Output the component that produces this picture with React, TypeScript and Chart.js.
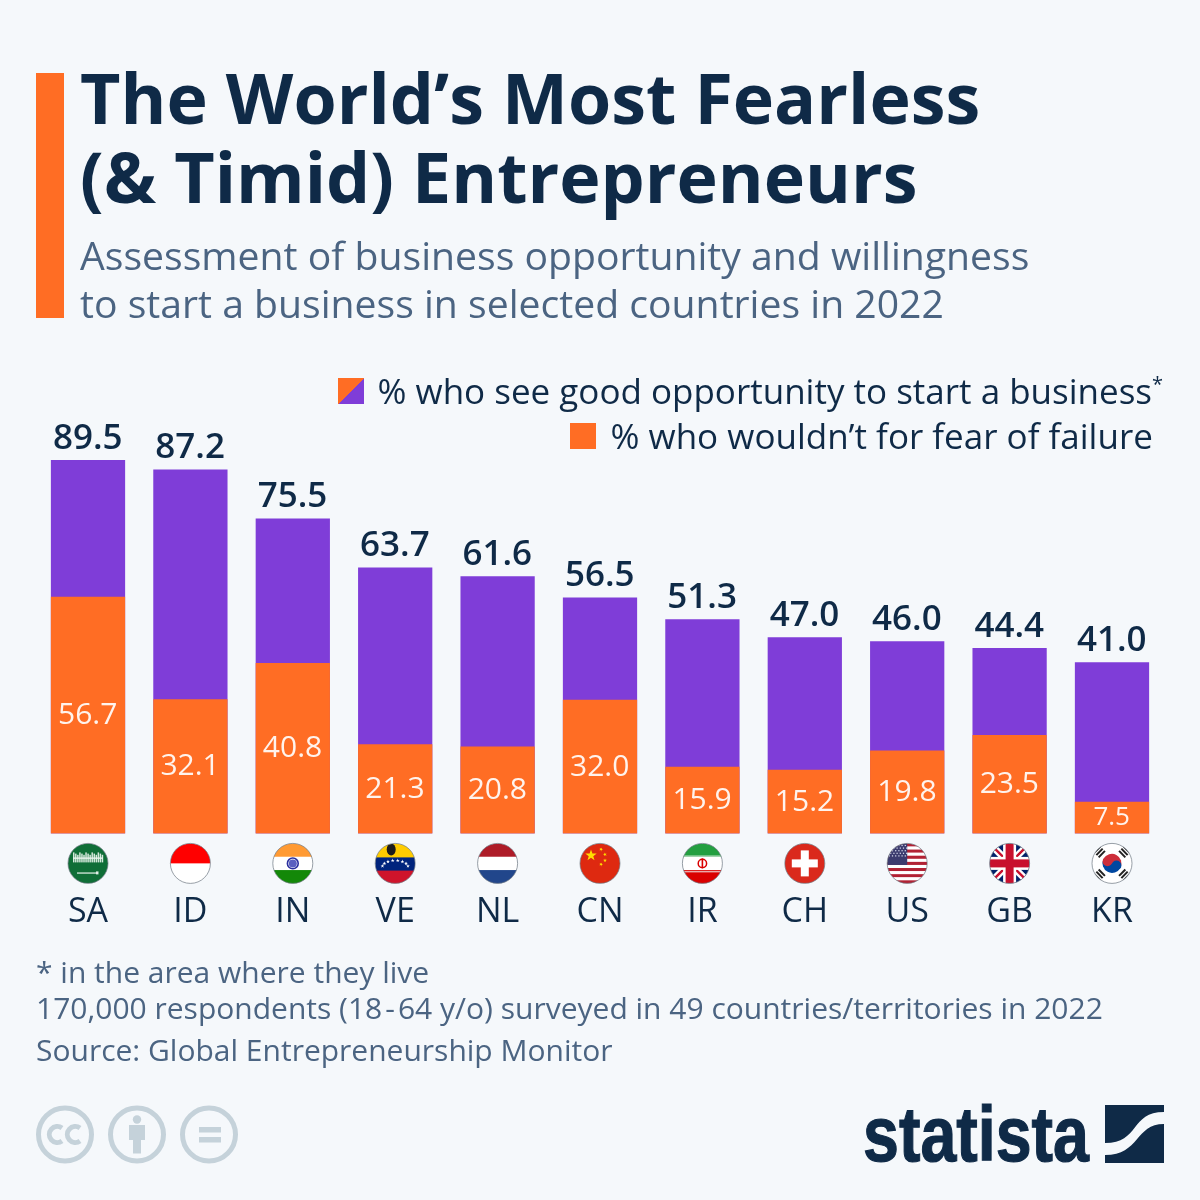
import React, { useEffect, useRef } from "react";
import { Chart, registerables } from "chart.js";

Chart.register(...registerables);

const categories = ["SA", "ID", "IN", "VE", "NL", "CN", "IR", "CH", "US", "GB", "KR"];
const opportunity = [89.5, 87.2, 75.5, 63.7, 61.6, 56.5, 51.3, 47.0, 46.0, 44.4, 41.0];
const fearOfFailure = [56.7, 32.1, 40.8, 21.3, 20.8, 32.0, 15.9, 15.2, 19.8, 23.5, 7.5];
const opportunityLabel = "% who see good opportunity to start a business";
const fearLabel = "% who wouldn\u2019t for fear of failure";

const BG = "#f5f8fb";
const ORANGE = "#ff6d24";
const PURPLE = "#7f3dd8";
const NAVY = "#0f2a47";
const SLATE = "#4b6482";
const FONT = "'Open Sans', sans-serif";

type Ctx = CanvasRenderingContext2D;

function star(c: Ctx, x: number, y: number, r: number, fill: string, rot = 0) {
  c.fillStyle = fill;
  c.beginPath();
  for (let i = 0; i < 10; i++) {
    const a = -Math.PI / 2 + rot + (i * Math.PI) / 5;
    const q = i % 2 ? r * 0.4 : r;
    c.lineTo(x + q * Math.cos(a), y + q * Math.sin(a));
  }
  c.closePath();
  c.fill();
}

function bands(c: Ctx, x: number, y: number, r: number, cols: string[], cuts?: number[]) {
  const cs = cuts ?? cols.map((_, i) => (i + 1) / cols.length);
  let prev = 0;
  cols.forEach((col, i) => {
    c.fillStyle = col;
    c.fillRect(x - r, y - r + prev * 2 * r, 2 * r, (cs[i] - prev) * 2 * r + 0.5);
    prev = cs[i];
  });
}

const flags: Record<string, (c: Ctx, x: number, y: number, r: number) => void> = {
  SA(c, x, y, r) {
    c.fillStyle = "#0f6e37";
    c.fillRect(x - r, y - r, 2 * r, 2 * r);
    c.fillStyle = "rgba(235,245,238,0.9)";
    for (let i = 0; i < 15; i++) {
      c.fillRect(x - 15 + i * 2.05, y - 11 + (i % 3) * 1.2, 1.5, 10 - (i % 3) * 1.2);
    }
    c.fillRect(x - 15, y - 6, 30, 1.5);
    c.fillRect(x - 11, y + 9, 21, 1.3);
    c.fillRect(x + 8, y + 8, 2.5, 3);
  },
  ID(c, x, y, r) {
    bands(c, x, y, r, ["#ff0000", "#ffffff"]);
  },
  IN(c, x, y, r) {
    bands(c, x, y, r, ["#ff9a33", "#ffffff", "#138808"]);
    c.strokeStyle = "#2b2f9e";
    c.lineWidth = 1.6;
    c.beginPath();
    c.arc(x, y, 5.4, 0, Math.PI * 2);
    c.stroke();
    c.fillStyle = "#5a60c0";
    c.beginPath();
    c.arc(x, y, 4, 0, Math.PI * 2);
    c.fill();
  },
  VE(c, x, y, r) {
    bands(c, x, y, r, ["#ffcc00", "#00247d", "#cf142b"], [0.35, 0.68, 1]);
    c.fillStyle = "#1c1c1c";
    c.beginPath();
    c.ellipse(x - 4, y - 14, 4.5, 6, 0, 0, Math.PI * 2);
    c.fill();
    for (let i = 0; i < 8; i++) {
      const a = Math.PI + ((i + 0.5) * Math.PI) / 8;
      star(c, x + 13 * Math.cos(a), y + 4 + 7 * Math.sin(a), 2, "#ffffff");
    }
  },
  NL(c, x, y, r) {
    bands(c, x, y, r, ["#ae1c28", "#ffffff", "#21468b"]);
  },
  CN(c, x, y, r) {
    c.fillStyle = "#de2910";
    c.fillRect(x - r, y - r, 2 * r, 2 * r);
    star(c, x - 9, y - 8, 6, "#ffde00");
    star(c, x + 1, y - 14, 2, "#ffde00", 0.5);
    star(c, x + 5, y - 9, 2, "#ffde00", 0.9);
    star(c, x + 5, y - 3, 2, "#ffde00", 0);
    star(c, x + 1, y + 1, 2, "#ffde00", 0.5);
  },
  IR(c, x, y, r) {
    bands(c, x, y, r, ["#239f40", "#ffffff", "#da0000"]);
    c.strokeStyle = "#da0000";
    c.lineWidth = 1.5;
    c.beginPath();
    c.arc(x, y, 4.2, 0, Math.PI * 2);
    c.stroke();
    c.fillStyle = "#da0000";
    c.fillRect(x - 0.8, y - 5, 1.6, 10);
    c.fillStyle = "#e9a9a9";
    c.fillRect(x - r, y + 7.5, 2 * r, 1.5);
    c.fillStyle = "#a9d8b4";
    c.fillRect(x - r, y - 8, 2 * r, 1.5);
  },
  CH(c, x, y, r) {
    c.fillStyle = "#da291c";
    c.fillRect(x - r, y - r, 2 * r, 2 * r);
    c.fillStyle = "#ffffff";
    c.fillRect(x - 4, y - 13, 8, 26);
    c.fillRect(x - 13, y - 4, 26, 8);
  },
  US(c, x, y, r) {
    const h = (2 * r) / 13;
    for (let i = 0; i < 13; i++) {
      c.fillStyle = i % 2 ? "#ffffff" : "#b22234";
      c.fillRect(x - r, y - r + i * h, 2 * r, h + 0.3);
    }
    c.fillStyle = "#3c3b6e";
    c.fillRect(x - r, y - r, 20, 7 * h);
    c.fillStyle = "#dfe3f2";
    for (let row = 0; row < 5; row++) {
      for (let col = 0; col < 6; col++) {
        c.fillRect(x - r + 1.5 + col * 3.2 + (row % 2) * 1.4, y - r + 1.5 + row * 2.6, 1.2, 1.2);
      }
    }
  },
  GB(c, x, y, r) {
    c.fillStyle = "#012169";
    c.fillRect(x - r, y - r, 2 * r, 2 * r);
    c.lineCap = "butt";
    const diag = (w: number, col: string) => {
      c.strokeStyle = col;
      c.lineWidth = w;
      c.beginPath();
      c.moveTo(x - r, y - r);
      c.lineTo(x + r, y + r);
      c.moveTo(x + r, y - r);
      c.lineTo(x - r, y + r);
      c.stroke();
    };
    diag(7, "#ffffff");
    diag(2.4, "#c8102e");
    c.fillStyle = "#ffffff";
    c.fillRect(x - 6.5, y - r, 13, 2 * r);
    c.fillRect(x - r, y - 6.5, 2 * r, 13);
    c.fillStyle = "#c8102e";
    c.fillRect(x - 4, y - r, 8, 2 * r);
    c.fillRect(x - r, y - 4, 2 * r, 8);
  },
  KR(c, x, y, r) {
    c.fillStyle = "#ffffff";
    c.fillRect(x - r, y - r, 2 * r, 2 * r);
    c.fillStyle = "#cd2e3a";
    c.beginPath();
    c.arc(x, y, 9.5, Math.PI * 1.15, Math.PI * 0.15);
    c.fill();
    c.fillStyle = "#0047a0";
    c.beginPath();
    c.arc(x, y, 9.5, Math.PI * 0.15, Math.PI * 1.15);
    c.fill();
    c.fillStyle = "#cd2e3a";
    c.beginPath();
    c.arc(x - 4.5, y - 2, 4.9, 0, Math.PI * 2);
    c.fill();
    c.fillStyle = "#0047a0";
    c.beginPath();
    c.arc(x + 4.5, y + 2, 4.9, 0, Math.PI * 2);
    c.fill();
    c.fillStyle = "#222222";
    [[-12.5, -11.5, -0.8], [12.5, -11.5, 0.8], [-12.5, 11.5, 0.8], [12.5, 11.5, -0.8]].forEach(([dx, dy, a]) => {
      c.save();
      c.translate(x + dx, y + dy);
      c.rotate(a);
      c.fillRect(-4.5, -4.2, 9, 2);
      c.fillRect(-4.5, -1, 9, 2);
      c.fillRect(-4.5, 2.2, 9, 2);
      c.restore();
    });
  },
};

const decorations = {
  id: "decorations",
  afterDatasetsDraw(chart: any) {
    const c: Ctx = chart.ctx;
    const total = chart.getDatasetMeta(1).data;
    const fear = chart.getDatasetMeta(0).data;
    c.save();
    c.textAlign = "center";
    categories.forEach((code, i) => {
      const t = total[i];
      c.fillStyle = NAVY;
      c.textBaseline = "alphabetic";
      c.font = `600 35px ${FONT}`;
      c.fillText(opportunity[i].toFixed(1), t.x - 0.3, t.y - 11.5);
      const f = fear[i];
      const small = fearOfFailure[i] < 10;
      c.fillStyle = "#ffffff";
      c.globalAlpha = 0.92;
      c.textBaseline = "middle";
      c.font = `400 ${small ? 26 : 30}px ${FONT}`;
      c.fillText(fearOfFailure[i].toFixed(1), f.x - 0.3, (f.y + f.base) / 2 + 0.3);
      c.globalAlpha = 1;
    });
    const xs = chart.scales.x;
    const cy = chart.scales.y.bottom + 30;
    const r = 20;
    categories.forEach((code, i) => {
      const x = xs.getPixelForTick(i);
      c.save();
      c.beginPath();
      c.arc(x, cy, r, 0, Math.PI * 2);
      c.clip();
      flags[code](c, x, cy, r);
      c.restore();
      c.strokeStyle = "rgba(110,120,130,0.7)";
      c.lineWidth = 1;
      c.beginPath();
      c.arc(x, cy, r, 0, Math.PI * 2);
      c.stroke();
    });
    c.restore();
  },
};

const abs = (left: number, top: number, extra: React.CSSProperties = {}): React.CSSProperties => ({
  position: "absolute",
  left,
  top,
  margin: 0,
  whiteSpace: "nowrap",
  fontFamily: FONT,
  ...extra,
});

export default function App() {
  const ref = useRef<HTMLCanvasElement>(null);
  useEffect(() => {
    const chart = new Chart(ref.current!, {
      type: "bar",
      data: {
        labels: categories,
        datasets: [
          { label: fearLabel, data: fearOfFailure, backgroundColor: ORANGE, barThickness: 73.6, order: 1 },
          { label: opportunityLabel, data: opportunity, backgroundColor: PURPLE, barThickness: 73.6, order: 2 },
        ],
      },
      options: {
        responsive: false,
        animation: false,
        layout: { padding: { left: 36.8, right: 36.8, top: 416.6, bottom: 0 } },
        plugins: { legend: { display: false }, title: { display: false }, tooltip: { enabled: false } },
        scales: {
          x: {
            stacked: true,
            grid: { display: false },
            border: { display: false },
            afterFit(s: any) {
              s.height = 366.6;
            },
            ticks: {
              padding: 51,
              autoSkip: false,
              maxRotation: 0,
              minRotation: 0,
              color: NAVY,
              font: { family: "'Open Sans'", size: 34, weight: "400" },
            },
          },
          y: { stacked: false, display: false, min: 0, max: 100 },
        },
      },
      plugins: [decorations],
    } as any);
    return () => chart.destroy();
  }, []);

  return (
    <div style={{ position: "absolute", left: 0, top: 0, width: 1200, height: 1200, background: BG, overflow: "hidden" }}>
      <canvas ref={ref} width={1200} height={1200} style={{ position: "absolute", left: 0, top: 0, display: "block" }} />
      <div style={{ position: "absolute", left: 36, top: 73, width: 28, height: 245, background: ORANGE }} />
      <h1 style={abs(80, 57, { fontSize: 69.9, lineHeight: "79px", fontWeight: 700, color: NAVY })}>
        The World’s Most Fearless
        <br />
        (&amp; Timid) Entrepreneurs
      </h1>
      <p style={abs(80, 230.5, { fontSize: 39.15, lineHeight: "48px", color: SLATE })}>
        Assessment of business opportunity and willingness
        <br />
        to start a business in selected countries in 2022
      </p>

      <div style={abs(338, 378, { width: 26, height: 26, background: `linear-gradient(to bottom right, ${ORANGE} 50%, ${PURPLE} 50%)` })} />
      <div style={abs(377.5, 368, { fontSize: 35, lineHeight: "46px", color: NAVY })}>
        {opportunityLabel}
        <sup style={{ fontSize: 20, lineHeight: 0 }}>*</sup>
      </div>
      <div style={abs(570, 423, { width: 26, height: 26, background: ORANGE })} />
      <div style={abs(610.5, 412.5, { fontSize: 35, lineHeight: "46px", color: NAVY })}>{fearLabel}</div>

      <div style={abs(36, 953, { fontSize: 30, lineHeight: "38px", color: SLATE })}>* in the area where they live</div>
      <div style={abs(36, 989, { fontSize: 30, lineHeight: "38px", color: SLATE })}>
        170,000 respondents (18{"\u200A"}-{"\u200A"}64 y/o) surveyed in 49 countries/territories in 2022
      </div>
      <div style={abs(36, 1031, { fontSize: 30, lineHeight: "38px", color: SLATE })}>Source: Global Entrepreneurship Monitor</div>

      <svg width={1200} height={1200} style={{ position: "absolute", left: 0, top: 0, pointerEvents: "none" }}>
        <g fill="none" stroke="#c5d2da" strokeWidth={5}>
          <circle cx={65} cy={1134.5} r={26.5} />
          <circle cx={137} cy={1134.5} r={26.5} />
          <circle cx={209} cy={1134.5} r={26.5} />
          <path d="M62 1128 a8 8 0 1 0 0 13" />
          <path d="M80 1128 a8 8 0 1 0 0 13" />
        </g>
        <g fill="#c5d2da">
          <circle cx={137} cy={1119.5} r={4.2} />
          <path d="M129 1125 h16 v15 h-4 v13.5 h-8 v-13.5 h-4 z" />
          <rect x={199} y={1127} width={22} height={5.5} />
          <rect x={199} y={1137} width={22} height={5.5} />
        </g>
        <text
          x={863}
          y={1161}
          textLength={226}
          lengthAdjust="spacingAndGlyphs"
          fontFamily="'Liberation Sans Narrow', 'Liberation Sans', sans-serif"
          fontWeight={700}
          fontSize={78}
          fill={NAVY}
          stroke={NAVY}
          strokeWidth={1.2}
        >
          statista
        </text>
        <path
          fill={NAVY}
          d="M1105 1105 H1164 V1112 C1130 1112 1140 1143 1105 1143 Z M1164 1124 V1163 H1105 V1155 C1140 1155 1135 1124 1164 1124 Z"
        />
      </svg>
    </div>
  );
}
